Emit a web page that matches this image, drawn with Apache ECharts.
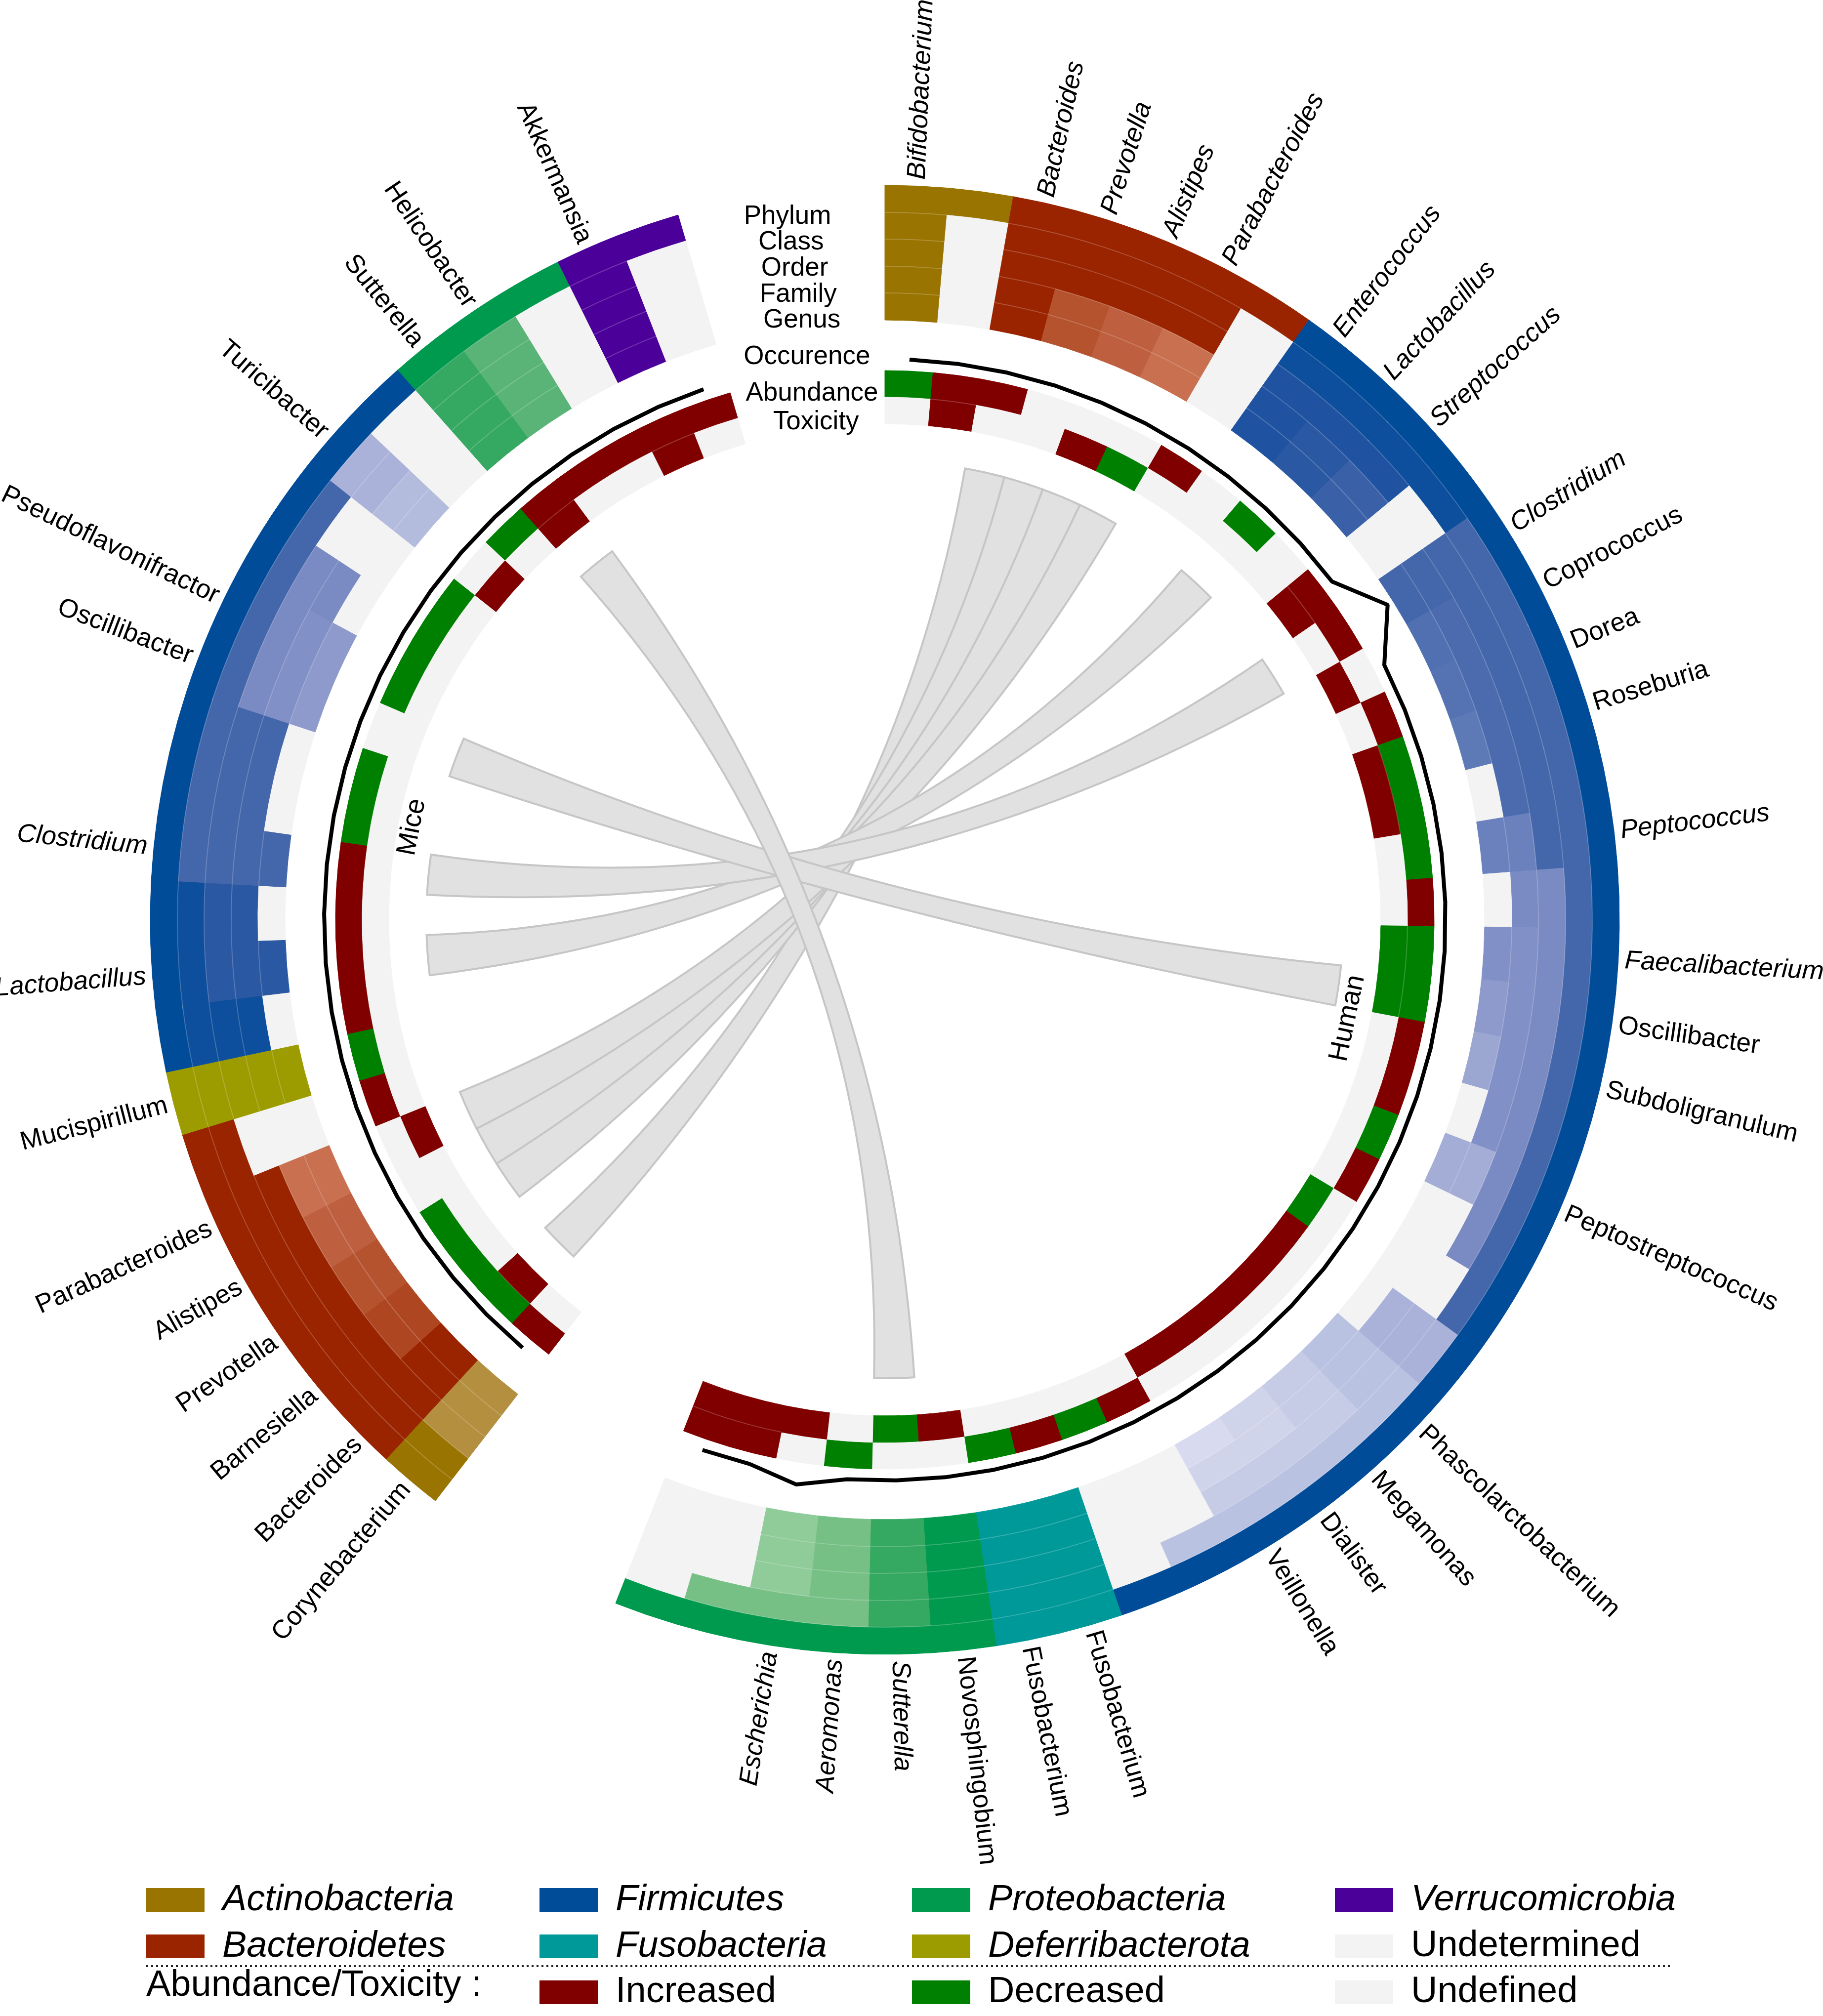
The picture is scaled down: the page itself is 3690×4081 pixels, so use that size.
<!DOCTYPE html>
<html>
<head>
<meta charset="utf-8">
<script src="https://cdn.jsdelivr.net/npm/echarts@6/dist/echarts.min.js"></script>
<style>html,body{margin:0;padding:0;background:#fff}#chart{width:3690px;height:4081px}</style>
</head>
<body>
<div id="chart"></div>
<script>
// ===================== DATA =====================
// Human sector: one entry per study unit (clockwise from 12 o'clock)
const humanGenera = ['Bifidobacterium','','Bacteroides','Prevotella','Alistipes','Parabacteroides','',
  'Enterococcus','Lactobacillus','Streptococcus','','Clostridium','Coprococcus','Dorea','Roseburia','',
  'Peptococcus','','Faecalibacterium','Oscillibacter','Subdoligranulum','','Peptostreptococcus','','','',
  'Phascolarctobacterium','Megamonas','Dialister','Veillonella','','','Fusobacterium','Fusobacterium',
  'Novosphingobium','Sutterella','Aeromonas','Escherichia','',''];
const humanPhyla = ['Act','Act','Bac','Bac','Bac','Bac','Bac',
  'Fir','Fir','Fir','Fir','Fir','Fir','Fir','Fir','Fir','Fir','Fir','Fir','Fir','Fir','Fir','Fir','Fir','Fir',
  'Fir','Fir','Fir','Fir','Fir','Fir','Fir','Fus','Fus','Pro','Pro','Pro','Pro','Pro','Pro'];
// taxonomy shade index within phylum palette (-1 = undetermined)
const humanClass  = [0,-1,0,0,0,0,-1,1,1,1,1,5,5,5,5,5,5,5,5,5,5,5,5,5,5,16,18,18,18,18,18,-1,0,0,0,1,3,3,3,-1];
const humanOrder  = [0,-1,0,0,0,0,-1,2,2,2,-1,5,5,5,5,5,5,11,11,11,11,11,11,11,-1,16,18,19,19,19,-1,-1,0,0,0,1,3,4,-1,-1];
const humanFamily = [0,-1,0,2,3,4,-1,2,3,4,-1,5,6,6,6,6,10,11,12,12,12,12,15,-1,-1,16,18,19,20,20,-1,-1,0,0,0,1,3,4,-1,-1];
const humanGenus  = [0,-1,0,2,3,4,-1,2,3,4,-1,5,7,8,9,-1,10,-1,12,13,14,-1,15,-1,-1,-1,18,19,20,21,-1,-1,0,0,0,1,3,4,-1,-1];
// 1 = increased, -1 = decreased, 0 = undefined
const humanAbundance = [-1,1,1,0,0,0,1,0,-1,0, 1,1,0,1,-1,-1,-1,1,-1,-1, 1,1,-1,1,0,0,0,0,0,0, 1,-1,1,-1,0,0,-1,0,1,1];
const humanToxicity  = [0,1,0,0,1,-1,0,0,0,0, 1,0,1,0,1,1,0,0,-1,-1, 0,0,0,0,-1,1,1,1,1,1, 0,0,0,0,1,-1,0,1,1,1];
const humanOccurrence = [1,1,1,1,1,1,1,1,1,1, 1,4,1,1,1,1,1,1,1,1, 1,1,1,1,1,1,1,1,1,1, 1,1,1,1,1,1,1,2,1,1];

// Mice sector
const miceGenera = ['Corynebacterium','Bacteroides','Barnesiella','Prevotella','Alistipes','Parabacteroides','',
  'Mucispirillum','','Lactobacillus','','Clostridium','','','Oscillibacter','Pseudoflavonifractor','','',
  'Turicibacter','','Sutterella','Helicobacter','','Akkermansia',''];
const micePhyla = ['Act','Bac','Bac','Bac','Bac','Bac','Bac','Def',
  'Fir','Fir','Fir','Fir','Fir','Fir','Fir','Fir','Fir','Fir','Fir','Fir','Pro','Pro','Pro','Ver','Ver'];
const miceClass  = [0,0,0,0,0,0,0,0,1,1,1,5,5,5,5,5,5,5,16,-1,1,2,-1,0,-1];
const miceOrder  = [1,0,0,0,0,0,-1,0,1,3,3,5,5,5,11,11,11,-1,16,-1,1,2,-1,0,-1];
const miceFamily = [1,0,1,2,3,4,-1,0,1,3,3,5,5,5,12,12,11,-1,17,-1,1,2,-1,0,-1];
const miceGenus  = [1,0,1,2,3,4,-1,0,-1,3,-1,5,-1,-1,13,13,-1,-1,17,-1,1,2,-1,0,-1];
const miceAbundance = [1,-1,-1,-1,0,0,1,-1,1,1,1,1,-1,-1,0,-1,-1,-1,0,-1,1,1,1,1,1];
const miceToxicity  = [0,1,0,0,0,1,0,0,0,0,0,0,0,0,0,0,0,0,1,0,1,0,0,1,0];
const miceOccurrence = [1,1,1,1,1,1,1,1,1,1,1,1,1,1,1,1,1,1,1,1,1,1,1,1,1];

// Links: mice unit -> human unit
const linkMice  = [1,3,4,5,9,11,14,20];
const linkHuman = [2,3,4,5,8,11,19,35];

// ===================== STYLE / LAYOUT =====================
const FONT = '"Liberation Sans", Arial, Helvetica, sans-serif';
const PALETTE = {
  Act: ['#9A7400','#B38F3F'],
  Bac: ['#9A2300','#AE4622','#B5532F','#BE6040','#C8704F'],
  Fir: ['#004C99','#0D4F9C','#1F52A0','#2B58A3','#3A61A8','#4466AA','#4B6BAE','#5070B1','#5573B3','#5D7AB6',
        '#6B81BD','#7A8AC2','#8190C6','#8D9ACB','#9CA7D1','#A3ADD6','#AAB2D9','#B4BCDE','#BAC2E2','#C6CBE6','#D0D4EA','#D8DBEF'],
  Fus: ['#009999'],
  Pro: ['#009A4E','#35A862','#5AB477','#76C086','#90CB9A'],
  Def: ['#9C9C00'],
  Ver: ['#4B0099']
};
const UNDET = '#F3F3F3';
const EFFECT = {'1':'#800000','-1':'#008000','0':'#F3F3F3'};
const ITALIC = new Set(['Bifidobacterium','Bacteroides','Prevotella','Alistipes','Parabacteroides','Enterococcus',
  'Lactobacillus','Streptococcus','Clostridium','Peptococcus','Faecalibacterium','Escherichia','Aeromonas','Sutterella']);
const MICE_ITALIC = new Set(['Lactobacillus','Clostridium']);

const AXIS_MAX = 360 / 5.0375;  // angular units around the circle
const HUMAN_OFFSET = 0;
const MICE_OFFSET = 43.22;
const RINGS = {phylum:[1432,1487], class:[1378,1432], order:[1323,1378], family:[1269,1323], genus:[1214,1269],
  abund:[1058,1112], tox:[1004,1058]};
const SEPARATED = {phylum:true, class:true, order:true, family:true, abund:true};
const OCC_BASE = 1113, OCC_STEP = 22;
const CHORD_R = 928;
const LABEL_R = 1500;

// ===================== BUILD =====================
const cells = [];
const seps = [];
function addSide(offset, phyla, cls, ord, fam, gen, ab, tx) {
  phyla.forEach((ph, i) => {
    const a0 = offset + i, a1 = a0 + 1;
    const rows = [['phylum', PALETTE[ph][0]], ['class', cls[i]], ['order', ord[i]], ['family', fam[i]], ['genus', gen[i]]]
      .map(([k, s], j) => [k, j === 0 ? s : (s < 0 ? UNDET : PALETTE[ph][s])]);
    rows.push(['abund', EFFECT[String(ab[i])]]);
    rows.push(['tox', EFFECT[String(tx[i])]]);
    rows.forEach(([k, color]) => {
      cells.push({value:[RINGS[k][0], RINGS[k][1], a0, a1], itemStyle:{color}});
      if (SEPARATED[k] && color !== UNDET) seps.push([RINGS[k][0], a0, a1]);
    });
  });
}
addSide(HUMAN_OFFSET, humanPhyla, humanClass, humanOrder, humanFamily, humanGenus, humanAbundance, humanToxicity);
addSide(MICE_OFFSET, micePhyla, miceClass, miceOrder, miceFamily, miceGenus, miceAbundance, miceToxicity);

const labels = [];
humanGenera.forEach((g, i) => { if (g) labels.push({name:g, italic: ITALIC.has(g), value:[LABEL_R, HUMAN_OFFSET + i + 0.5]}); });
miceGenera.forEach((g, i) => { if (g) labels.push({name:g, italic: MICE_ITALIC.has(g), value:[LABEL_R, MICE_OFFSET + i + 0.5]}); });

const ringNameAngle = 69.9;
const ringNames = [
  {name:'Phylum', value:[1437, ringNameAngle]}, {name:'Class', value:[1385, ringNameAngle]},
  {name:'Order', value:[1331, ringNameAngle]}, {name:'Family', value:[1278, ringNameAngle]},
  {name:'Genus', value:[1225, ringNameAngle]}, {name:'Occurence', value:[1150, ringNameAngle]},
  {name:'Abundance', value:[1076, ringNameAngle]}, {name:'Toxicity', value:[1017, ringNameAngle]}
];
const sideNames = [
  {name:'Human', value:[958, HUMAN_OFFSET + 20.25]},
  {name:'Mice', value:[975, 55.8]}
];

const links = linkMice.map((m, k) => ({value:[MICE_OFFSET + m, MICE_OFFSET + m + 1, HUMAN_OFFSET + linkHuman[k], HUMAN_OFFSET + linkHuman[k] + 1]}));

function screenAngle(p, cx, cy) { return Math.atan2(p[1] - cy, p[0] - cx); }
function arcAngles(api, r, a0, a1, cx, cy) {
  const p0 = api.coord([r, a0]), p1 = api.coord([r, a1]);
  let s = screenAngle(p0, cx, cy), e = screenAngle(p1, cx, cy);
  while (e <= s) e += Math.PI * 2;
  return [s, e, Math.hypot(p0[0]-cx, p0[1]-cy)];
}

function renderCell(params, api) {
  const cx = params.coordSys.cx, cy = params.coordSys.cy;
  const r0 = api.value(0), r1 = api.value(1), a0 = api.value(2), a1 = api.value(3);
  const [s, e, R1] = arcAngles(api, r1, a0, a1, cx, cy);
  const R0 = arcAngles(api, r0, a0, a1, cx, cy)[2];
  const c = api.visual('color');
  return {type:'sector', shape:{cx, cy, r0:R0, r:R1, startAngle:s, endAngle:e, clockwise:true},
    style:{fill:c, stroke:c, lineWidth:1}};
}

function renderSep(params, api) {
  const cx = params.coordSys.cx, cy = params.coordSys.cy;
  const [s, e, R] = arcAngles(api, api.value(0), api.value(1), api.value(2), cx, cy);
  return {type:'arc', shape:{cx, cy, r:R, startAngle:s, endAngle:e, clockwise:true},
    style:{stroke:'rgba(255,255,255,0.2)', lineWidth:2, fill:null}};
}

function renderChord(params, api) {
  const a0 = api.value(0), a1 = api.value(1), b0 = api.value(2), b1 = api.value(3);
  const c = api.coord([0, 0]);
  const pts = [];
  const arc = (s, e) => { for (let i = 0; i <= 16; i++) { const p = api.coord([CHORD_R, s + (e - s) * i / 16]); pts.push([p[0], p[1]]); } };
  const bez = (s, e) => {
    const P0 = api.coord([CHORD_R, s]), P2 = api.coord([CHORD_R, e]);
    for (let i = 1; i < 40; i++) {
      const t = i / 40, u = 1 - t;
      pts.push([u*u*P0[0] + 2*u*t*c[0] + t*t*P2[0], u*u*P0[1] + 2*u*t*c[1] + t*t*P2[1]]);
    }
  };
  arc(a0, a1); bez(a1, b0); arc(b0, b1); bez(b1, a0);
  return {type:'polygon', shape:{points:pts}, style:{fill:'#E1E1E1', stroke:'#C6C6C6', lineWidth:4}};
}

function renderLabel(params, api) {
  const lab = labels[params.dataIndex];
  const cx = params.coordSys.cx, cy = params.coordSys.cy;
  const p = api.coord([api.value(0), api.value(1)]);
  const phi = screenAngle(p, cx, cy);
  const right = p[0] >= cx - 0.5;
  return {type:'text', x:p[0], y:p[1], rotation: right ? -phi : Math.PI - phi,
    style:{text:lab.name, fill:'#000', fontSize:53, fontFamily:FONT, fontStyle: lab.italic ? 'italic' : 'normal',
      align: right ? 'left' : 'right', verticalAlign:'middle'}};
}

function renderRingName(params, api) {
  const it = ringNames[params.dataIndex];
  const p = api.coord([api.value(0), api.value(1)]);
  return {type:'text', x:p[0], y:p[1],
    style:{text:it.name, fill:'#000', fontSize:53, fontFamily:FONT, align:'center', verticalAlign:'middle'}};
}

function renderSideName(params, api) {
  const it = sideNames[params.dataIndex];
  const cx = params.coordSys.cx, cy = params.coordSys.cy;
  const p = api.coord([api.value(0), api.value(1)]);
  const phi = screenAngle(p, cx, cy);
  const right = p[0] >= cx;
  const rot = right ? -(phi - Math.PI / 2) : -(phi + Math.PI / 2);
  return {type:'text', x:p[0], y:p[1], rotation: rot,
    style:{text:it.name, fill:'#000', fontSize:55, fontFamily:FONT, align:'center', verticalAlign:'middle'}};
}

// legend dummy series
const legendDefs = [
  {name:'Actinobacteria', color:PALETTE.Act[0], italic:true, col:0, row:0},
  {name:'Firmicutes', color:PALETTE.Fir[0], italic:true, col:1, row:0},
  {name:'Proteobacteria', color:PALETTE.Pro[0], italic:true, col:2, row:0},
  {name:'Verrucomicrobia', color:PALETTE.Ver[0], italic:true, col:3, row:0},
  {name:'Bacteroidetes', color:PALETTE.Bac[0], italic:true, col:0, row:1},
  {name:'Fusobacteria', color:PALETTE.Fus[0], italic:true, col:1, row:1},
  {name:'Deferribacterota', color:PALETTE.Def[0], italic:true, col:2, row:1},
  {name:'Undetermined', color:UNDET, italic:false, col:3, row:1},
  {name:'Increased', color:EFFECT['1'], italic:false, col:1, row:2},
  {name:'Decreased', color:EFFECT['-1'], italic:false, col:2, row:2},
  {name:'Undefined', color:EFFECT['0'], italic:false, col:3, row:2}
];
const LEG_X = [296, 1092, 1846, 2702];
const LEG_Y = [3833, 3927, 4020];

const series = [
  {type:'custom', coordinateSystem:'polar', renderItem:renderCell, data:cells, encode:{radius:[0,1], angle:[2,3]}, silent:true, z:2},
  {type:'custom', coordinateSystem:'polar', renderItem:renderSep, data:seps, encode:{radius:0, angle:[1,2]}, silent:true, z:3},
  {type:'custom', coordinateSystem:'polar', renderItem:renderChord, data:links, encode:{angle:[0,1,2,3]}, silent:true, z:1},
  {type:'line', coordinateSystem:'polar', data: humanOccurrence.map((v, i) => [OCC_BASE + OCC_STEP * v, HUMAN_OFFSET + i + 0.5]),
    symbol:'none', lineStyle:{color:'#000', width:8}, silent:true, z:5},
  {type:'line', coordinateSystem:'polar', data: miceOccurrence.map((v, i) => [OCC_BASE + OCC_STEP * v, MICE_OFFSET + i + 0.5]),
    symbol:'none', lineStyle:{color:'#000', width:8}, silent:true, z:5},
  {type:'custom', coordinateSystem:'polar', renderItem:renderLabel, data:labels.map(l => l.value), encode:{radius:0, angle:1}, silent:true, z:6},
  {type:'custom', coordinateSystem:'polar', renderItem:renderRingName, data:ringNames.map(l => l.value), encode:{radius:0, angle:1}, silent:true, z:6},
  {type:'custom', coordinateSystem:'polar', renderItem:renderSideName, data:sideNames.map(l => l.value), encode:{radius:0, angle:1}, silent:true, z:6}
];
legendDefs.forEach(d => series.push({type:'custom', name:d.name, coordinateSystem:'polar', data:[], renderItem:() => null, itemStyle:{color:d.color}}));

const legends = legendDefs.map(d => ({
  data:[d.name], left: LEG_X[d.col], top: LEG_Y[d.row] - 24, padding:0, icon:'rect', itemWidth:118, itemHeight:48,
  selectedMode:false, orient:'horizontal',
  textStyle:{fontSize:74, lineHeight:48, fontFamily:FONT, fontStyle: d.italic ? 'italic' : 'normal', color:'#000', padding:[0,0,0,31]}
}));

const option = {
  backgroundColor:'#fff',
  animation:false,
  polar:{center:[1791, 1862], radius:1487},
  angleAxis:{type:'value', min:0, max:AXIS_MAX, startAngle:90, clockwise:true, show:false},
  radiusAxis:{type:'value', min:0, max:1487, show:false},
  legend: legends,
  graphic:[
    {type:'line', shape:{x1:296, y1:3980, x2:3386, y2:3980}, style:{stroke:'#222', lineWidth:4, lineDash:[4,6]}},
    {type:'text', x:296, y:LEG_Y[2], style:{text:'Abundance/Toxicity :', fontSize:74, fontFamily:FONT, fill:'#000', verticalAlign:'middle', align:'left'}}
  ],
  series: series
};

const chart = echarts.init(document.getElementById('chart'), null, {width:3690, height:4081});
chart.setOption(option);
</script>
</body>
</html>
